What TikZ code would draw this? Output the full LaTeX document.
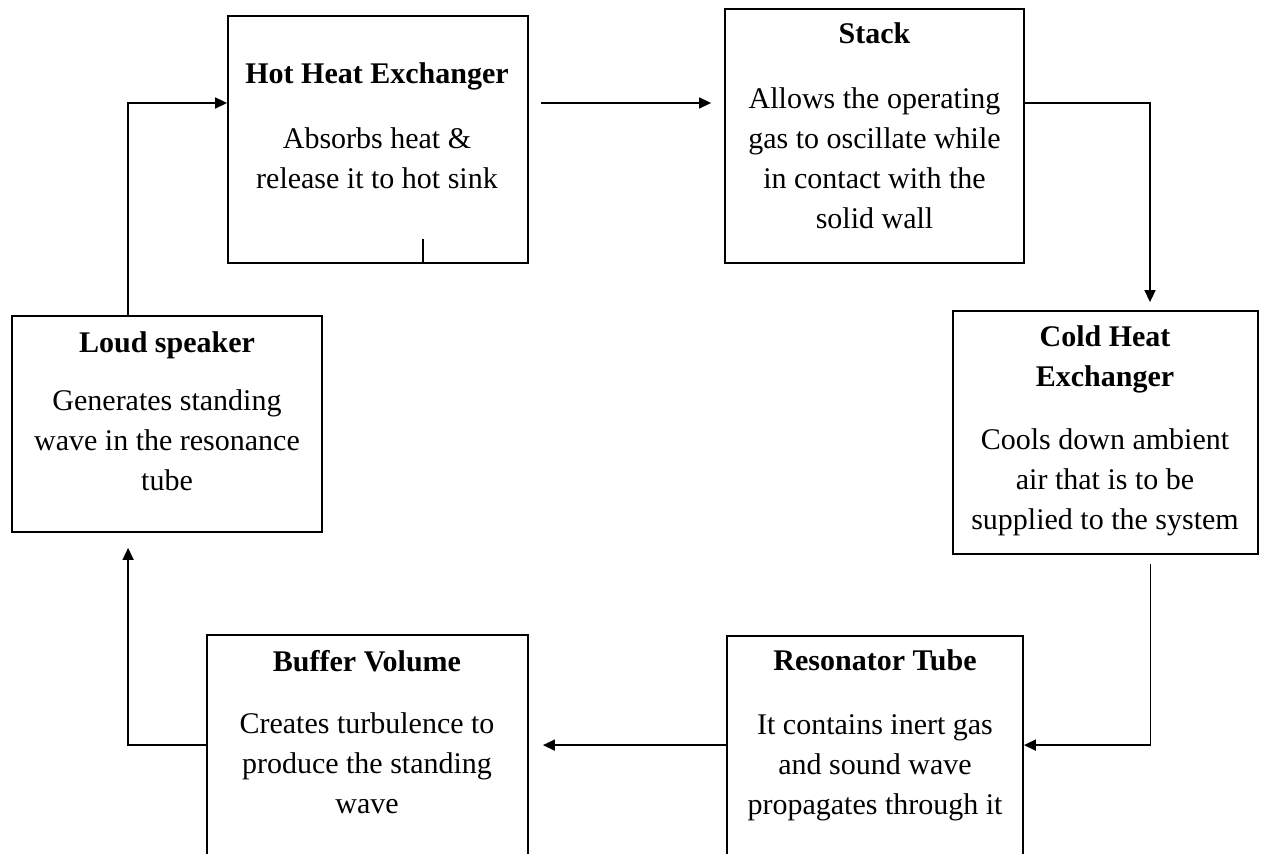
\documentclass[tikz,border=0pt]{standalone}
\usepackage{fontspec}
\setmainfont{Liberation Serif}
\usetikzlibrary{arrows.meta,calc}
\begin{document}
\begin{tikzpicture}[x=0.5pt,y=-0.5pt,
  box/.style={draw=black,line width=0.9pt,rectangle,inner sep=0pt,fill=none},
  txt/.style={align=center,inner sep=0pt,font=\fontsize{15pt}{20pt}\selectfont,
    execute at begin node=\strut,execute at end node=\strut},
  conn/.style={draw=black,line width=0.8pt},
  arr/.style={conn,-{Triangle[length=6pt,width=5.5pt]}}]
\clip (0,0) rectangle (1262,854);
\fill[white] (0,0) rectangle (1262,854);
% boxes
\node[box,minimum width=150pt,minimum height=123.5pt] (hot) at (378,139.5) {};
\node[box,minimum width=149.5pt,minimum height=127pt] (stack) at (874.5,136) {};
\node[box,minimum width=155pt,minimum height=108pt] (loud) at (167,424) {};
\node[box,minimum width=152.5pt,minimum height=121.5pt] (cold) at (1105.5,432.5) {};
\node[box,minimum width=160.5pt,minimum height=132.5pt] (buf) at (367.5,767.5) {};
\node[box,minimum width=148pt,minimum height=132pt] (res) at (875,768) {};
% texts
\node[txt] (hott) at (377,131.5) {\textbf{Hot Heat Exchanger}\\[12.5pt]Absorbs heat \&\\release it to hot sink};
\node[txt] (stackt) at (874.5,131.5) {\textbf{Stack}\\[12.5pt]Allows the operating\\gas to oscillate while\\in contact with the\\solid wall};
\node[txt] (loudt) at (167,417) {\textbf{Loud speaker}\\[9pt]Generates standing\\wave in the resonance\\tube};
\node[txt] (coldt) at (1105,434) {\textbf{Cold Heat}\\\textbf{Exchanger}\\[11.5pt]Cools down ambient\\air that is to be\\supplied to the system};
\node[txt] (buft) at (367,738) {\textbf{Buffer Volume}\\[11pt]Creates turbulence to\\produce the standing\\wave};
\node[txt] (rest) at (875,738) {\textbf{Resonator Tube}\\[12pt]It contains inert gas\\and sound wave\\propagates through it};
% connectors
\draw[arr] ($(loud.north west)+(117,0)$) |- ($(hot.west)+(0,-36.5)$);
\draw[arr] ($(hot.east)+(12,-36.5)$) -- ($(stack.west)+(-13,-33)$);
\draw[arr] ($(stack.east)+(0,-33)$) -| ($(cold.north)+(44.5,-8)$);
\draw[arr] ($(cold.south)+(45,9)$) |- ($(res.north east)+(0,110)$);
\draw[arr] ($(res.north west)+(0,110)$) -- ($(buf.north east)+(14,111)$);
\draw[arr] ($(buf.north west)+(0,111)$) -| ($(loud.south west)+(117,15)$);
\draw[conn] ($(hot.south)+(45,0)$) -- ++(0,-25);
\end{tikzpicture}
\end{document}
